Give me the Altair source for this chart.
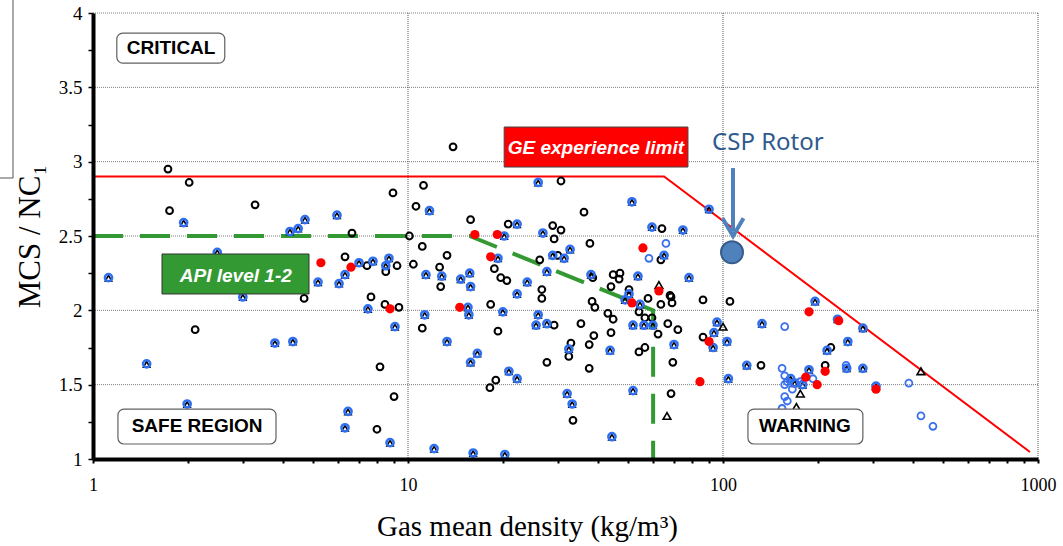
import altair as alt
import pandas as pd

# ---------------- data ----------------
# black open circles
bo_x = [1.73, 2.02, 1.75, 3.27, 8.96, 6.64, 6.31, 7.41, 8.5, 9.23, 7.63, 4.68, 8.45, 9.36, 2.11, 8.15, 9.03, 7.97,
        13.9, 11.2, 30.6, 10.6, 15.8, 36.2, 10.1, 20.8, 28.8, 30.6, 29.1, 37.8, 64.0, 63.5, 11.1, 13.3, 10.4, 18.8,
        19.7, 20.6, 12.6, 12.7, 26.2, 29.9, 26.6, 38.6, 44.8, 47.1, 46.8, 44.1, 50.3, 67.9, 86.4,
        26.6, 18.3, 11.1, 19.3, 19.0, 18.2, 29.1, 27.6, 35.4, 38.4, 39.2, 43.1, 44.8, 44.1, 38.9, 37.6, 32.9, 32.4,
        37.6, 33.4, 54.1, 56.5, 57.8, 54.1, 56.5, 59.5, 62.2, 63.5, 68.4, 68.9, 66.8, 71.9, 69.3, 68.4, 86.4,
        105.2, 220, 132, 211]
bo_y = [2.95, 2.86, 2.67, 2.71, 2.79, 2.52, 2.36, 2.30, 2.26, 2.30, 2.09, 2.08, 2.04, 2.02, 1.87, 1.62, 1.42, 1.20,
        3.10, 2.84, 2.87, 2.70, 2.61, 2.66, 2.50, 2.58, 2.57, 2.54, 2.48, 2.45, 2.55, 2.34, 2.43, 2.37, 2.31, 2.28,
        2.22, 2.20, 2.29, 2.16, 2.34, 2.37, 2.14, 2.22, 2.24, 2.25, 2.21, 2.16, 2.14, 2.10, 2.07,
        2.08, 2.04, 1.88, 1.86, 1.53, 1.48, 1.90, 1.65, 1.91, 2.06, 2.02, 1.98, 1.94, 1.85, 1.83, 1.77, 1.78, 1.69,
        1.61, 1.26, 1.72, 1.75, 2.08, 1.99, 1.95, 1.95, 1.84, 2.04, 2.09, 2.05, 1.91, 1.87, 1.65, 1.44, 1.82,
        2.06, 1.75, 1.63, 1.63]

# blue circles with black triangle
bt_x = [1.94, 4.22, 4.48, 4.71, 5.95, 1.12, 2.48, 6.99, 7.74, 8.70, 8.5, 5.18, 6.04, 6.31, 2.99, 7.46, 9.09, 3.78,
        4.31, 1.48, 1.99, 6.45, 6.31, 8.77,
        25.9, 11.7, 51.4, 90.3, 20.2, 22.2, 26.8, 59.5, 74.6, 65.0, 19.3, 11.4, 12.8, 14.7, 15.7, 15.8, 28.8, 31.3,
        32.7, 27.6, 23.9, 22.2, 38.1, 53.7, 78.0, 50.3,
        15.5, 15.6, 20.0, 11.3, 13.3, 16.6, 15.8, 20.9, 22.2, 25.9, 25.5, 27.6, 32.4, 32.0, 33.2, 43.8, 51.8, 44.4,
        12.1, 16.1, 20.3, 48.9, 54.5, 51.8, 56.1, 59.9, 69.9, 93.0, 93.6, 95.7,
        196, 231, 278, 133, 103, 249, 214, 119, 104, 164, 169, 179, 187.5, 247, 278, 306]
bt_y = [2.59, 2.53, 2.55, 2.61, 2.64, 2.22, 2.39, 2.32, 2.33, 2.35, 2.30, 2.19, 2.18, 2.24, 2.09, 2.01, 1.89, 1.78,
        1.79, 1.64, 1.37, 1.32, 1.21, 1.11,
        2.86, 2.67, 2.73, 2.68, 2.50, 2.58, 2.52, 2.56, 2.54, 2.37, 2.35, 2.24, 2.23, 2.21, 2.25, 2.16, 2.37, 2.35,
        2.41, 2.26, 2.19, 2.11, 2.24, 2.23, 2.22, 2.11,
        2.02, 1.97, 1.99, 1.97, 1.79, 1.71, 1.65, 1.59, 1.54, 1.97, 1.90, 1.91, 1.74, 1.44, 1.37, 1.73, 1.46, 1.15,
        1.07, 1.04, 1.03, 2.07, 2.04, 1.90, 1.90, 1.90, 1.77, 1.75, 1.85, 1.92,
        2.06, 1.94, 1.88, 1.91, 1.79, 1.79, 1.73, 1.63, 1.54, 1.54, 1.51, 1.50, 1.60, 1.61, 1.61, 1.49]

# red filled circles
rd_x = [5.29, 6.59, 8.77, 16.3, 19.2, 55.7, 18.3, 62.6, 14.6, 51.4, 84.5, 90.3, 187.5, 233, 183, 199, 211, 306]
rd_y = [2.32, 2.29, 2.01, 2.51, 2.51, 2.42, 2.36, 2.13, 2.02, 2.05, 1.52, 1.79, 1.99, 1.93, 1.55, 1.50, 1.59, 1.47]

# blue open circles
bc_x = [65.9, 58.2, 157, 154, 157, 160, 157, 176, 166, 193, 246, 389, 425, 464, 157, 160, 154]
bc_y = [2.45, 2.35, 1.89, 1.61, 1.56, 1.52, 1.50, 1.52, 1.47, 1.54, 1.63, 1.51, 1.29, 1.22, 1.42, 1.39, 1.34]

# black open triangles
tr_x = [62.6, 66.4, 100, 176, 425, 171]
tr_y = [2.17, 1.29, 1.89, 1.44, 1.59, 1.35]

# limit lines
ge_x = [1, 65, 943]
ge_y = [2.9, 2.9, 1.047]
api_x = [1, 15.7, 60, 60]
api_y = [2.5, 2.5, 2.0, 1.0]

# CSP rotor point
csp_x = [106.8]
csp_y = [2.39]

# axis ticks / grid
x_ticks = [1, 2, 3, 4, 5, 6, 7, 8, 9, 10, 20, 30, 40, 50, 60, 70, 80, 90,
           100, 200, 300, 400, 500, 600, 700, 800, 900, 1000]
y_ticks = [1, 1.25, 1.5, 1.75, 2, 2.25, 2.5, 2.75, 3, 3.25, 3.5, 3.75, 4]
x_grid = [10, 100, 1000]
y_grid = [1.5, 2, 2.5, 3, 3.5, 4]

# ---------------- scales & axes ----------------
xs = alt.Scale(type="log", domain=[1, 1000], nice=False)
ys = alt.Scale(domain=[1, 4], nice=False, zero=False)

x_axis = alt.Axis(
    values=x_ticks,
    labelExpr="indexof([1,10,100,1000], datum.value) >= 0 ? toString(datum.value) : ''",
    title="Gas mean density (kg/m³)", grid=False,
    domainColor="black", domainWidth=4, tickColor="black", tickWidth=2, tickSize=4,
    labelFont="Liberation Serif", labelFontSize=18, labelColor="black", labelPadding=13,
    labelFlush=False, labelOverlap=False,
    titleFont="Liberation Serif", titleFontSize=29, titleFontWeight="normal", titleColor="black",
    titleX=434, titleY=67, titleAlign="center", titleBaseline="middle", zindex=1,
)
y_axis = alt.Axis(
    values=y_ticks,
    labelExpr="(datum.value*2) % 1 == 0 ? format(datum.value, '~g') : ''",
    title="MCS / NC₁", grid=False,
    domainColor="black", domainWidth=4, tickColor="black", tickWidth=1.5, tickSize=5,
    labelFont="Liberation Serif", labelFontSize=19, labelColor="black", labelPadding=6,
    labelFlush=False, labelOverlap=False,
    titleFont="Liberation Serif", titleFontSize=31, titleFontWeight="normal", titleColor="black",
    titleX=-63, titleY=223, titleAngle=270, titleAlign="center", titleBaseline="middle", zindex=1,
)


def X(f):
    return alt.X(f, type="quantitative", scale=xs, axis=x_axis)


def Y(f):
    return alt.Y(f, type="quantitative", scale=ys, axis=y_axis)


grid_y = alt.Chart(pd.DataFrame({"v": y_grid})).mark_rule(
    color="#7a7a7a", strokeDash=[1, 1], strokeWidth=1
).encode(y=Y("v"))
grid_x = alt.Chart(pd.DataFrame({"v": x_grid})).mark_rule(
    color="#555555", strokeDash=[1, 1], strokeWidth=1
).encode(x=X("v"))

# partial frame at far left (cut-off legend box)
left_box = alt.Chart(pd.DataFrame({"a": [0]})).mark_rect(
    fill=None, stroke="#555555", strokeWidth=1
).encode(x=alt.value(-98), x2=alt.value(-80), y=alt.value(-33), y2=alt.value(165))

ge_line = alt.Chart(pd.DataFrame({"x": ge_x, "y": ge_y, "o": range(len(ge_x))})).mark_line(
    color="#ff0000", strokeWidth=2
).encode(x=X("x"), y=Y("y"), order="o:Q")
api_line = alt.Chart(pd.DataFrame({"x": api_x, "y": api_y, "o": range(len(api_x))})).mark_line(
    color="#339933", strokeWidth=4, strokeDash=[30, 17]
).encode(x=X("x"), y=Y("y"), order="o:Q")

black_o = alt.Chart(pd.DataFrame({"x": bo_x, "y": bo_y})).mark_point(
    shape="circle", filled=False, color="black", strokeWidth=2, size=46, opacity=1
).encode(x=X("x"), y=Y("y"))

bt_df = pd.DataFrame({"x": bt_x, "y": bt_y})
bt_tri = alt.Chart(bt_df).mark_point(
    shape="triangle-up", filled=False, color="black", strokeWidth=1.6, size=40, opacity=1, yOffset=0.5
).encode(x=X("x"), y=Y("y"))
bt_ring = alt.Chart(bt_df).mark_point(
    shape="circle", filled=False, color="#2f6ff0", strokeWidth=2.5, size=52, opacity=1
).encode(x=X("x"), y=Y("y"))

tri = alt.Chart(pd.DataFrame({"x": tr_x, "y": tr_y})).mark_point(
    shape="triangle-up", filled=False, color="black", strokeWidth=1.6, size=60, opacity=1
).encode(x=X("x"), y=Y("y"))

blue_c = alt.Chart(pd.DataFrame({"x": bc_x, "y": bc_y})).mark_point(
    shape="circle", filled=False, color="#3a70ee", strokeWidth=1.8, size=48, opacity=1
).encode(x=X("x"), y=Y("y"))

red = alt.Chart(pd.DataFrame({"x": rd_x, "y": rd_y})).mark_point(
    shape="circle", filled=True, color="#ff0000", size=85, opacity=1
).encode(x=X("x"), y=Y("y"))

# ---------------- annotations ----------------
box_df = pd.DataFrame({
    "x1": [1.19, 1.20, 120],
    "x2": [2.62, 3.81, 278],
    "y1": [3.865, 1.336, 1.336],
    "y2": [3.663, 1.101, 1.101],
})
boxes = alt.Chart(box_df).mark_rect(
    fill="white", stroke="#606060", strokeWidth=1.2, cornerRadius=6
).encode(x=X("x1"), x2="x2", y=Y("y1"), y2="y2")

box_txt = alt.Chart(pd.DataFrame({
    "x": [1.77, 2.14, 182], "y": [3.764, 1.222, 1.222], "t": ["CRITICAL", "SAFE REGION", "WARNING"]
})).mark_text(
    font="Liberation Sans", fontWeight="bold", fontSize=19, color="black", baseline="middle", align="center"
).encode(x=X("x"), y=Y("y"), text="t:N")

ge_box = alt.Chart(pd.DataFrame({"x1": [20.2], "x2": [77.4], "y1": [3.233], "y2": [2.964]})).mark_rect(
    fill="#ff0000", stroke="#444444", strokeWidth=1
).encode(x=X("x1"), x2="x2", y=Y("y1"), y2="y2")
api_box = alt.Chart(pd.DataFrame({"x1": [1.656], "x2": [4.85], "y1": [2.379], "y2": [2.110]})).mark_rect(
    fill="#339933", stroke="#333333", strokeWidth=1
).encode(x=X("x1"), x2="x2", y=Y("y1"), y2="y2")
label_txt = alt.Chart(pd.DataFrame({
    "x": [39.5, 2.84], "y": [3.091, 2.231], "t": ["GE experience limit", "API level 1-2"]
})).mark_text(
    font="Liberation Sans", fontWeight="bold", fontStyle="italic", fontSize=19, color="white",
    baseline="middle", align="center"
).encode(x=X("x"), y=Y("y"), text="t:N")

csp_txt = alt.Chart(pd.DataFrame({"x": [92.3], "y": [3.125], "t": ["CSP Rotor"]})).mark_text(
    font="Noto Sans", fontSize=24, color="#2f5a8c", baseline="middle", align="left"
).encode(x=X("x"), y=Y("y"), text="t:N")
arrow_shaft = alt.Chart(pd.DataFrame({"x": [107.6], "y1": [2.957], "y2": [2.53]})).mark_rule(
    color="#4f81bd", strokeWidth=4
).encode(x=X("x"), y=Y("y1"), y2="y2")
arrow_head = alt.Chart(pd.DataFrame({"x": [107.6], "y": [2.56]})).mark_point(
    shape="M -1 -0.85 L 0 0.85 L 1 -0.85", filled=False, color="#4f81bd", strokeWidth=4,
    size=441, opacity=1
).encode(x=X("x"), y=Y("y"))
csp_pt = alt.Chart(pd.DataFrame({"x": csp_x, "y": csp_y})).mark_point(
    shape="circle", filled=True, fill="#4f81bd", stroke="#385d8a", strokeWidth=2, size=484, opacity=1
).encode(x=X("x"), y=Y("y"))

chart = alt.layer(
    grid_y, grid_x, left_box, ge_line, api_line,
    black_o, bt_tri, bt_ring, tri, blue_c, red,
    boxes, box_txt, ge_box, api_box, label_txt,
    csp_txt, arrow_shaft, arrow_head, csp_pt,
).properties(
    width=945, height=446,
    autosize=alt.AutoSizeParams(type="none"),
    padding={"left": 93, "top": 13, "right": 25, "bottom": 87},
    background="white",
).configure_view(stroke=None)

chart.save("out.html", embed_options={"renderer": "svg", "actions": False})
